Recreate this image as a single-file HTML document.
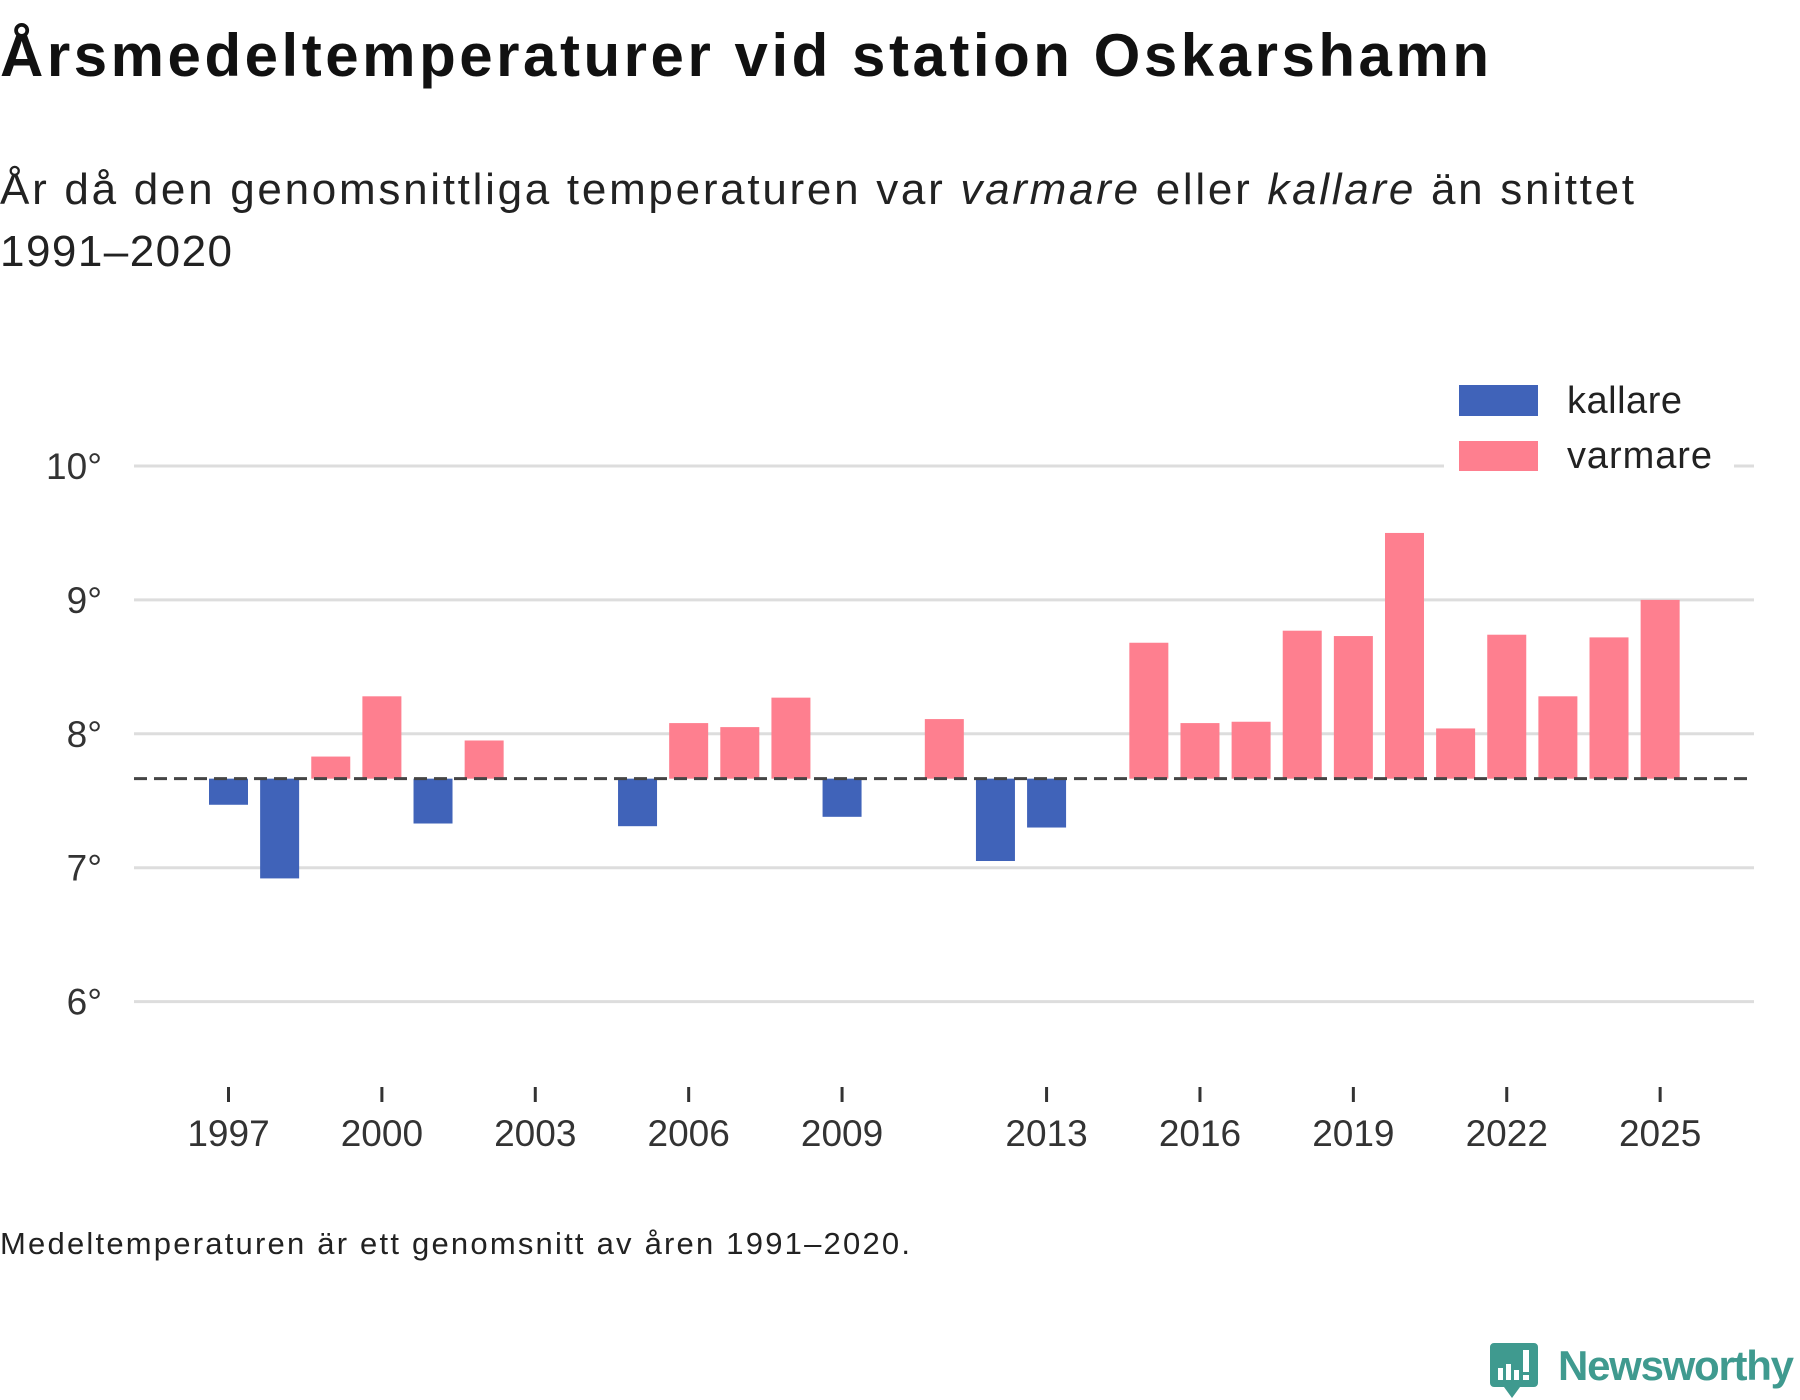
<!DOCTYPE html>
<html><head><meta charset="utf-8"><style>
html,body{margin:0;padding:0;background:#fff;}
svg{display:block;font-family:"Liberation Sans",sans-serif;}
</style></head><body>
<svg id="chart" width="1800" height="1400" viewBox="0 0 1800 1400">
<text x="0" y="76" font-size="60" font-weight="bold" fill="#111" textLength="1489">Årsmedeltemperaturer vid station Oskarshamn</text>
<text x="0" y="204" font-size="44" fill="#222" textLength="1634">År då den genomsnittliga temperaturen var <tspan font-style="italic">varmare</tspan> eller <tspan font-style="italic">kallare</tspan> än snittet</text>
<text x="0" y="266" font-size="44" fill="#222" textLength="232">1991–2020</text>
<g id="grid"></g>
<g id="bars"></g>
<g id="xaxis"></g>
<g>
<rect x="1444" y="372" width="290" height="110" fill="#fff"/>
<rect x="1459" y="385" width="79" height="31" fill="#4063b9"/>
<text x="1567" y="413" font-size="38" fill="#222" textLength="115">kallare</text>
<rect x="1459" y="441" width="79" height="30" fill="#fe7f8f"/>
<text x="1567" y="468" font-size="38" fill="#222" textLength="145">varmare</text>
</g>
<text x="0" y="1254" font-size="31" fill="#222" textLength="910">Medeltemperaturen är ett genomsnitt av åren 1991–2020.</text>
<g>
<path d="M1494 1343 h40 a4 4 0 0 1 4 4 v36 a4 4 0 0 1 -4 4 h-14 l-8 11 l-8 -11 h-10 a4 4 0 0 1 -4 -4 v-36 a4 4 0 0 1 4 -4z" fill="#3f9a8f"/>
<rect x="1498" y="1368" width="5" height="12" fill="#fff"/>
<rect x="1506" y="1364" width="5" height="16" fill="#fff"/>
<rect x="1514" y="1370" width="5" height="10" fill="#fff"/>
<rect x="1523" y="1350" width="6" height="22" fill="#fff"/>
<rect x="1523" y="1375" width="6" height="5" fill="#fff"/>
<text x="1558" y="1380" font-size="42" font-weight="bold" fill="#3f9a8f" textLength="236">Newsworthy</text>
</g>
</svg>
<script>
const years = [1997,1998,1999,2000,2001,2002,2005,2006,2007,2008,2009,2011,2012,2013,2015,2016,2017,2018,2019,2020,2021,2022,2023,2024,2025];
const temps = [7.47,6.92,7.83,8.28,7.33,7.95,7.31,8.08,8.05,8.27,7.38,8.11,7.05,7.30,8.68,8.08,8.09,8.77,8.73,9.50,8.04,8.74,8.28,8.72,9.00];
const baseline = [7.665];
const yTicks = [6,7,8,9,10];
const xTicks = [1997,2000,2003,2006,2009,2013,2016,2019,2022,2025];

const NS='http://www.w3.org/2000/svg';
function y(v){return 466+(10-v)*133.9;}
function x(yr){return 228.5+(yr-1997)*51.13;}
function mk(tag,attrs,parent){const e=document.createElementNS(NS,tag);for(const k in attrs)e.setAttribute(k,attrs[k]);parent.appendChild(e);return e;}
const grid=document.getElementById('grid'),bars=document.getElementById('bars'),xa=document.getElementById('xaxis');
yTicks.forEach(t=>{
  const l=mk('line',{x1:134,x2:1754,y1:y(t),y2:y(t),stroke:'#ddd','stroke-width':3},grid);
  
  
  const tx=mk('text',{x:102,y:y(t)+13,'font-size':37,fill:'#333','text-anchor':'end'},grid);
  tx.textContent=t+'°';
  
  
});
years.forEach((yr,i)=>{
  const v=temps[i],b=baseline[0],warm=v>=b;
  const r=mk('rect',{x:x(yr)-19.5,width:39,y:y(Math.max(v,b)),height:Math.abs(y(v)-y(b)),fill:warm?'#fe7f8f':'#4063b9'},bars);
  
  
});
const bl=mk('line',{x1:134,x2:1754,y1:y(baseline[0]),y2:y(baseline[0]),stroke:'#444','stroke-width':3,'stroke-dasharray':'13 7'},bars);


xTicks.forEach(t=>{
  const l=mk('line',{x1:x(t),x2:x(t),y1:1087,y2:1102,stroke:'#333','stroke-width':3},xa);
  
  
  const tx=mk('text',{x:x(t),y:1146,'font-size':37,fill:'#333','text-anchor':'middle'},xa);
  tx.textContent=t;
  
  
});
</script>
</body></html>
